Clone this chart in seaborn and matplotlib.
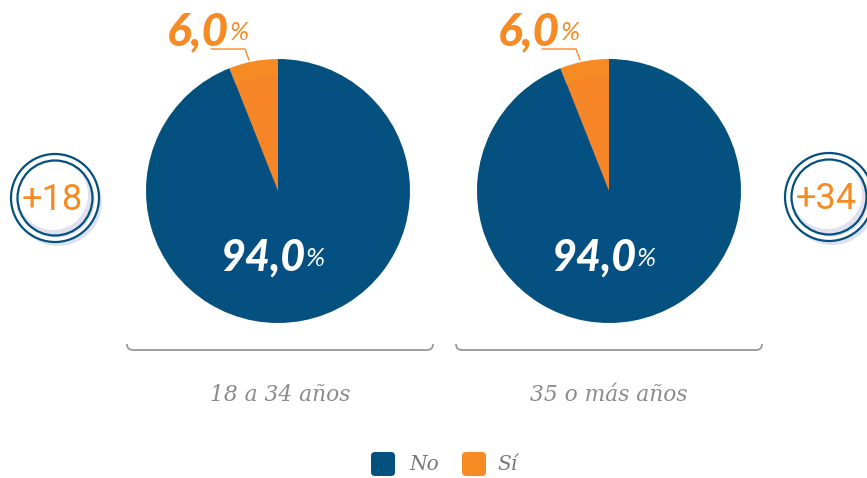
import matplotlib
matplotlib.use("Agg")
import matplotlib.pyplot as plt
import seaborn as sns
from matplotlib.patches import Circle, FancyBboxPatch, PathPatch
from matplotlib.path import Path

# datos
grupos = ["18 a 34 años", "35 o más años"]
badges = ["+18", "+34"]
categorias = ["No", "Sí"]
valores_no = [94.0, 94.0]
valores_si = [6.0, 6.0]

W, H = 867, 478
AZUL = "#04507f"
AZUL_IN = "#055083"
NARANJA = "#f68b24"
NARANJA_IN = "#f58526"
GRIS = "#8a8b8e"

sns.set_theme(style="white")
colores = sns.color_palette([NARANJA, AZUL])
colores_in = sns.color_palette([NARANJA_IN, AZUL_IN])

fig = plt.figure(figsize=(W / 100, H / 100), dpi=100)
fondo = fig.add_axes([0, 0, 1, 1], zorder=5)
fondo.set_xlim(0, W)
fondo.set_ylim(H, 0)
fondo.axis("off")

centros = [278, 609]
R = 132


def numero(x, y, valor, color, size):
    txt = f"{valor:.1f}".replace(".", ",")
    fondo.text(x, y, txt, color=color, fontsize=size, family="Lato", weight="black",
               style="italic", ha="right", va="center_baseline", zorder=5)
    fondo.text(x + 1, y + 2, "%", color=color, fontsize=18.5, family="Lato", weight="normal",
               style="italic", ha="left", va="center_baseline", zorder=5)


for i, cx in enumerate(centros):
    # los ejes del pie se colocan en pixeles, con margen
    lado = 2 * R * 1.25
    ax = fig.add_axes([(cx - lado / 2) / W, 1 - (191 + lado / 2) / H, lado / W, lado / H])
    vals = [valores_si[i], valores_no[i]]
    ax.pie(vals, colors=colores, startangle=90, radius=1.0, wedgeprops={"linewidth": 0})
    ax.pie(vals, colors=colores_in, startangle=90, radius=0.87, wedgeprops={"linewidth": 0})
    ax.set_xlim(-1.25, 1.25)
    ax.set_ylim(-1.25, 1.25)
    ax.patch.set_alpha(0)

    # etiquetas
    numero(cx + 27, 254, valores_no[i], "white", 31)
    numero(cx - 49, 28, valores_si[i], NARANJA, 33)
    fondo.plot([cx - 67, cx - 33, cx - 29], [49, 49, 60], color=NARANJA, lw=1, zorder=4)

    # llave
    x0, x1 = (127, 433) if i == 0 else (456, 762)
    codes = [Path.MOVETO, Path.CURVE3, Path.CURVE3, Path.LINETO, Path.CURVE3, Path.CURVE3]
    puntos = [(x0, 344), (x0, 350), (x0 + 6, 350), (x1 - 6, 350), (x1, 350), (x1, 344)]
    fondo.add_patch(PathPatch(Path(puntos, codes), fill=False, ec="#97989d", lw=1.3))
    fondo.text((x0 + x1) / 2, 395, grupos[i], color=GRIS, fontsize=15.7, family="DejaVu Serif",
               style="italic", ha="center", va="center")

# insignias laterales
for (bx, by), txt in zip([(55, 198), (829, 197)], badges):
    fondo.add_patch(Circle((bx + 3, by + 4), 44, fc="#dfe2ee", ec="none", zorder=1))
    fondo.add_patch(Circle((bx, by), 44, fc="white", ec="none", zorder=1.5))
    fondo.add_patch(Circle((bx + 2, by + 2), 37.5, fc="#dfe2ee", ec="none", zorder=1.6))
    fondo.add_patch(Circle((bx - 2, by - 3), 35, fc="white", ec="none", zorder=2))
    fondo.add_patch(Circle((bx, by), 44, fc="none", ec=AZUL, lw=1.6, zorder=3))
    fondo.add_patch(Circle((bx, by), 37.5, fc="none", ec=AZUL, lw=1.6, zorder=3))
    fondo.text(bx - 3, by + 2, txt, color=NARANJA, fontsize=26, family="Roboto",
               ha="center", va="center", zorder=4)

# leyenda
for x, cat, col, xt in zip([371, 462], categorias, [AZUL, NARANJA], [409, 497]):
    fondo.add_patch(FancyBboxPatch((x + 3, 455), 18, 18, boxstyle="round,pad=3,rounding_size=4",
                                   fc=col, ec="none"))
    fondo.text(xt, 465, cat, color="#77787b", fontsize=14.5, family="DejaVu Serif", style="italic",
               ha="left", va="center")

fig.savefig("out.png", dpi=100)
